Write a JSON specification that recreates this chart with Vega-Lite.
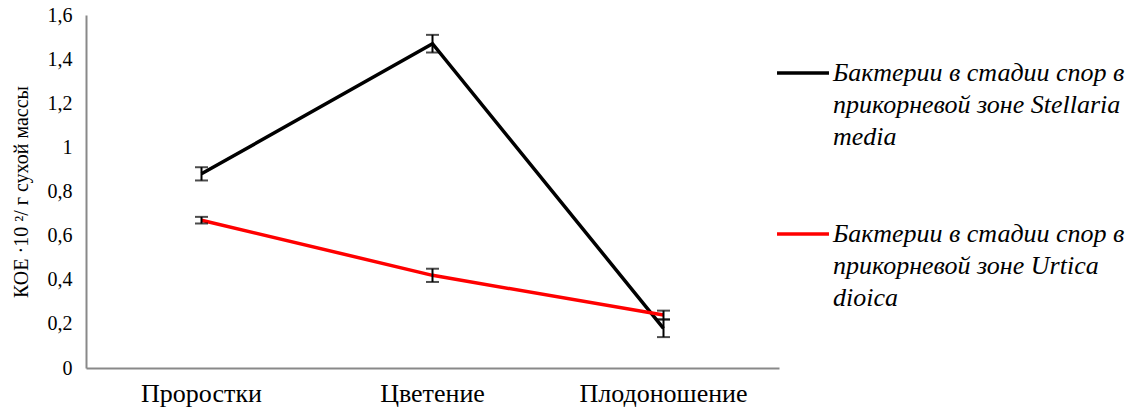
{
  "$schema": "https://vega.github.io/schema/vega-lite/v6.json",
  "width": 693,
  "height": 353,
  "autosize": {"type": "none"},
  "padding": {"left": 86, "top": 15, "right": 360, "bottom": 48},
  "background": "white",
  "data": {
    "values": [
      {"stage": "Проростки", "series": "Бактерии в стадии спор в прикорневой зоне Stellaria media", "value": 0.88, "lo": 0.85, "hi": 0.91},
      {"stage": "Цветение", "series": "Бактерии в стадии спор в прикорневой зоне Stellaria media", "value": 1.47, "lo": 1.43, "hi": 1.51},
      {"stage": "Плодоношение", "series": "Бактерии в стадии спор в прикорневой зоне Stellaria media", "value": 0.18, "lo": 0.14, "hi": 0.22},
      {"stage": "Проростки", "series": "Бактерии в стадии спор в прикорневой зоне Urtica dioica", "value": 0.67, "lo": 0.655, "hi": 0.685},
      {"stage": "Цветение", "series": "Бактерии в стадии спор в прикорневой зоне Urtica dioica", "value": 0.42, "lo": 0.39, "hi": 0.45},
      {"stage": "Плодоношение", "series": "Бактерии в стадии спор в прикорневой зоне Urtica dioica", "value": 0.24, "lo": 0.22, "hi": 0.26}
    ]
  },
  "encoding": {
    "x": {
      "field": "stage",
      "type": "nominal",
      "sort": ["Проростки", "Цветение", "Плодоношение"],
      "scale": {"paddingInner": 0, "paddingOuter": 0},
      "axis": {
        "title": null,
        "labelAngle": 0,
        "labelFont": "Liberation Serif",
        "labelFontSize": 26,
        "labelFontWeight": "normal",
        "labelColor": "black",
        "labelPadding": 12,
        "ticks": false,
        "domainColor": "#898989",
        "domainWidth": 2,
        "grid": false
      }
    }
  },
  "layer": [
    {
      "mark": {"type": "line", "strokeWidth": 3.5},
      "encoding": {
        "y": {
          "field": "value",
          "type": "quantitative",
          "scale": {"domain": [0, 1.6]},
          "axis": {
            "title": "КОЕ ·10 ²/ г сухой массы",
            "titleFont": "Liberation Serif",
            "titleFontSize": 20,
            "titleFontWeight": "normal",
            "titleColor": "black",
            "titlePadding": 16,
            "labelFont": "Liberation Serif",
            "labelFontSize": 20,
            "labelFontWeight": "normal",
            "labelColor": "black",
            "labelPadding": 14,
            "labelExpr": "replace(format(datum.value, ''), '.', ',')",
            "values": [0, 0.2, 0.4, 0.6, 0.8, 1, 1.2, 1.4, 1.6],
            "ticks": false,
            "domainColor": "#898989",
            "domainWidth": 2,
            "grid": false
          }
        },
        "color": {
          "field": "series",
          "type": "nominal",
          "scale": {
            "domain": ["Бактерии в стадии спор в прикорневой зоне Stellaria media", "Бактерии в стадии спор в прикорневой зоне Urtica dioica"],
            "range": ["#000000", "#ff0000"]
          },
          "legend": {
            "title": null,
            "orient": "none",
            "legendX": 689,
            "legendY": 30,
            "padding": 0,
            "symbolType": "stroke",
            "symbolSize": 2700,
            "symbolStrokeWidth": 3.5,
            "labelFont": "Liberation Serif",
            "labelFontSize": 26,
            "labelFontStyle": "italic",
            "labelFontWeight": "normal",
            "labelColor": "black",
            "labelOffset": 2,
            "labelLimit": 420,
            "rowPadding": 56,
            "labelExpr": "datum.label == 'Бактерии в стадии спор в прикорневой зоне Stellaria media' ? ['Бактерии в стадии спор в', 'прикорневой зоне Stellaria', 'media'] : ['Бактерии в стадии спор в', 'прикорневой зоне Urtica', 'dioica']"
          }
        }
      }
    },
    {
      "mark": {"type": "rule", "color": "black", "strokeWidth": 2},
      "encoding": {
        "y": {"field": "lo", "type": "quantitative"},
        "y2": {"field": "hi"},
        "detail": {"field": "series"}
      }
    },
    {
      "mark": {"type": "tick", "color": "black", "orient": "horizontal", "size": 13, "thickness": 2},
      "encoding": {
        "y": {"field": "lo", "type": "quantitative"},
        "detail": {"field": "series"}
      }
    },
    {
      "mark": {"type": "tick", "color": "black", "orient": "horizontal", "size": 13, "thickness": 2},
      "encoding": {
        "y": {"field": "hi", "type": "quantitative"},
        "detail": {"field": "series"}
      }
    }
  ],
  "config": {
    "view": {"stroke": null},
    "style": {"guide-label": {"lineHeight": 32}}
  }
}
